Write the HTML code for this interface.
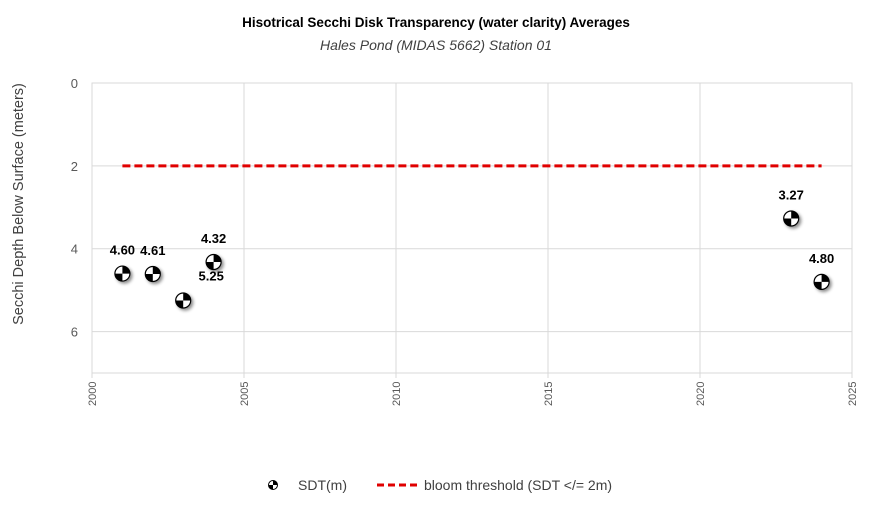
<!DOCTYPE html>
<html><head><meta charset="utf-8"><style>
body{margin:0;background:#fff;font-family:"Liberation Sans",sans-serif}
</style></head><body>
<svg width="873" height="510" xmlns="http://www.w3.org/2000/svg" font-family="Liberation Sans, sans-serif">
<defs>
<filter id="sh" x="-50%" y="-50%" width="200%" height="200%"><feDropShadow dx="2" dy="2" stdDeviation="1.5" flood-color="#000" flood-opacity="0.45"/></filter>
</defs>
<rect width="873" height="510" fill="#fff"/>
<text x="436" y="27" text-anchor="middle" font-size="13.5" font-weight="bold" fill="#000">Hisotrical Secchi Disk Transparency (water clarity) Averages</text>
<text x="436" y="50" text-anchor="middle" font-size="14" font-style="italic" fill="#404040">Hales Pond (MIDAS 5662) Station 01</text>
<text transform="translate(23,204) rotate(-90)" text-anchor="middle" font-size="14.5" fill="#404040">Secchi Depth Below Surface (meters)</text>
<g id="grid"></g>
<g id="marks"></g>
<g>
<g>
<circle cx="273" cy="485" r="4.5" fill="#fff" stroke="#000" stroke-width="1"/>
<path d="M273,485 L277.5,485 A4.5,4.5 0 0 0 273,480.5Z M273,485 L268.5,485 A4.5,4.5 0 0 0 273,489.5Z" fill="#000"/>
<text x="298" y="490" font-size="14" fill="#404040">SDT(m)</text>
</g>
<g>
<line x1="377" y1="485" x2="418" y2="485" stroke="#e00000" stroke-width="3" stroke-dasharray="7,4"/>
<text x="424" y="490" font-size="14" fill="#404040">bloom threshold (SDT &lt;/= 2m)</text>
</g>
</g>
</svg>
<script>
const years=[2001,2002,2003,2004,2023,2024];
const depths=[4.60,4.61,5.25,4.32,3.27,4.80];
const labels=["4.60","4.61","5.25","4.32","3.27","4.80"];
const xTicks=[2000,2005,2010,2015,2020,2025];
const yTicks=[0,2,4,6];
const thresholdYears=[2001,2024];
const thresholdValue=2;
const NS="http://www.w3.org/2000/svg";
const X0=92,X1=852,Y0=83,Y1=373;
const xs=v=>X0+(v-2000)/(2025-2000)*(X1-X0);
const ys=v=>Y0+v/7*(Y1-Y0);
const svg=document.querySelector('svg');
const grid=document.getElementById('grid'),marks=document.getElementById('marks');
function mk(t,a,p){const e=document.createElementNS(NS,t);for(const k in a)e.setAttribute(k,a[k]);(p||svg).appendChild(e);return e;}
mk('rect',{x:X0,y:Y0,width:X1-X0,height:Y1-Y0,fill:'none',stroke:'#d9d9d9'},grid);
xTicks.forEach(t=>{
 const l=mk('line',{x1:xs(t),x2:xs(t),y1:Y0,y2:Y1+5,stroke:'#d9d9d9'},grid);
 
 
 const tx=mk('text',{transform:`translate(${xs(t)+4},${Y1+33}) rotate(-90)`,'font-size':'11',fill:'#595959'},grid);
 tx.textContent=t;
 
 
});
yTicks.forEach(t=>{
 const l=mk('line',{x1:X0,x2:X1,y1:ys(t),y2:ys(t),stroke:'#d9d9d9'},grid);
 
 
 const tx=mk('text',{x:X0-14,y:ys(t)+5,'text-anchor':'end','font-size':'13',fill:'#595959'},grid);
 tx.textContent=t;
 
 
});
const th=mk('line',{x1:xs(thresholdYears[0]),x2:xs(thresholdYears[1]),y1:ys(thresholdValue),y2:ys(thresholdValue),stroke:'#e00000','stroke-width':3,'stroke-dasharray':'8,4'},marks);


years.forEach((yr,i)=>{
 const cx=xs(yr),cy=ys(depths[i]),r=7.5;
 const g=mk('g',{filter:'url(#sh)'},marks);
 
 
 mk('circle',{cx,cy,r,fill:'#fff',stroke:'#000','stroke-width':1.2},g);
 mk('path',{d:`M${cx},${cy} L${cx+r},${cy} A${r},${r} 0 0 0 ${cx},${cy-r}Z M${cx},${cy} L${cx-r},${cy} A${r},${r} 0 0 0 ${cx},${cy+r}Z`,fill:'#000'},g);
 const special=(i===2);
 const t=mk('text',{x:special?cx+28:cx,y:special?cy-20:cy-19,'text-anchor':'middle','font-size':'13','font-weight':'bold',fill:'#000'},marks);
 t.textContent=labels[i];
 
 
});
</script>
</body></html>
